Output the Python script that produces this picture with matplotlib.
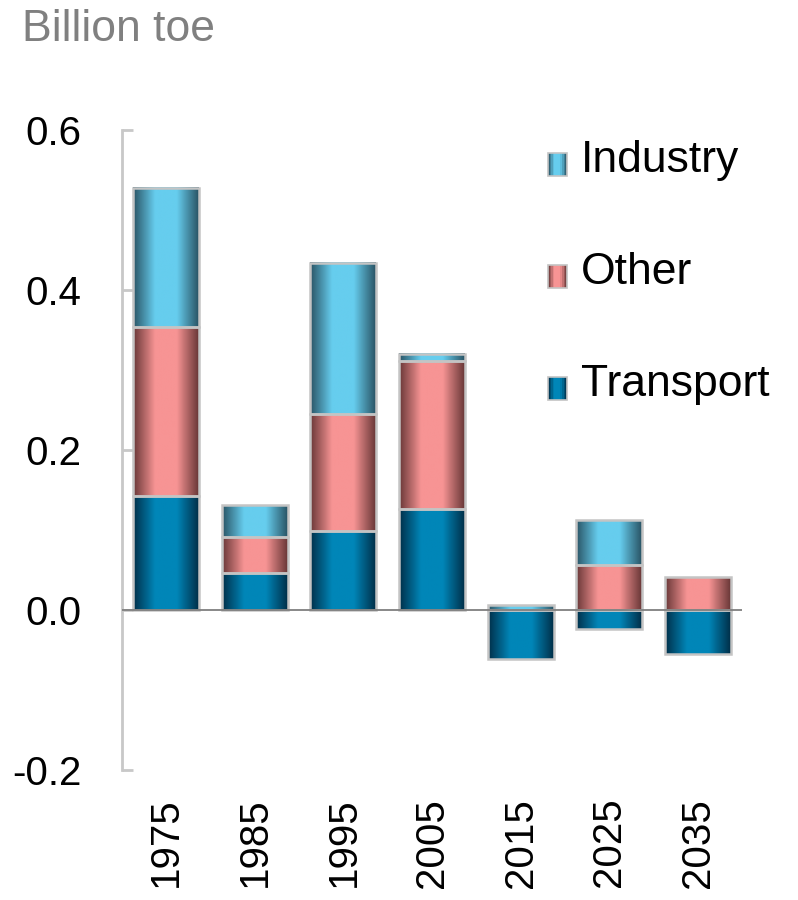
import numpy as np
import matplotlib.pyplot as plt
from matplotlib.colors import LinearSegmentedColormap
from matplotlib.patches import Rectangle
from matplotlib.legend_handler import HandlerBase

plt.rcParams['font.family'] = ['Liberation Sans', 'DejaVu Sans']

years = ['1975', '1985', '1995', '2005', '2015', '2025', '2035']
transport = [0.142, 0.046, 0.099, 0.126, -0.061, -0.024, -0.055]
other = [0.212, 0.045, 0.146, 0.185, 0.0, 0.056, 0.041]
industry = [0.174, 0.040, 0.189, 0.009, 0.006, 0.056, 0.0]

series = [('Transport', transport, '#00304a', '#0086b8'),
          ('Other', other, '#6a3838', '#f79494'),
          ('Industry', industry, '#2a5566', '#66cdee')]

grad = np.linspace(0, 1, 64).reshape(1, -1)

fig = plt.figure(figsize=(7.98, 9), dpi=100)
ax = fig.add_axes([0.1529, 0.1444, 0.777, 0.7111])

w = 0.745
pos = np.zeros(len(years))
neg = np.zeros(len(years))
for name, vals, edge, mid in series:
    cm = LinearSegmentedColormap.from_list(name, [edge, mid, mid, edge])
    for i, v in enumerate(vals):
        if v == 0:
            continue
        if v > 0:
            b, t = pos[i], pos[i] + v
            pos[i] = t
        else:
            b, t = neg[i] + v, neg[i]
            neg[i] = b
        ax.imshow(grad, cmap=cm, aspect='auto', extent=(i - w/2, i + w/2, b, t),
                  zorder=2, interpolation='bicubic')
        ax.add_patch(Rectangle((i - w/2, b), w, t - b, fill=False,
                               edgecolor='#c4c4c4', lw=1.8, zorder=3))

ax.set_xlim(-0.5, 6.5)
ax.set_ylim(-0.2, 0.6)
ax.axhline(0, color='#7f7f7f', lw=1.3, zorder=4)

for s in ['top', 'right', 'bottom']:
    ax.spines[s].set_visible(False)
ax.spines['left'].set_color('#c8c8c8')
ax.spines['left'].set_linewidth(2)

ax.set_yticks([-0.2, 0.0, 0.2, 0.4, 0.6])
ax.set_yticklabels(['-0.2', '0.0', '0.2', '0.4', '0.6'])
ax.tick_params(axis='y', direction='in', length=8, width=2, color='#c8c8c8',
               labelsize=29, pad=29)
ax.set_xticks(range(len(years)))
ax.set_xticklabels(years, rotation=90, fontsize=29)
ax.tick_params(axis='x', length=0, pad=20)

fig.text(0.027, 0.967, 'Billion toe', fontsize=32, color='#808080', va='center')

class GradHandler(HandlerBase):
    def __init__(self, edge, mid):
        super().__init__()
        self.cm = LinearSegmentedColormap.from_list('h', [edge, mid, mid, edge])
    def create_artists(self, legend, orig, xd, yd, width, height, fontsize, trans):
        n = 12
        arts = []
        for k in range(n):
            r = Rectangle((xd + width * k / n, yd), width / n, height,
                          facecolor=self.cm((k + 0.5) / n), edgecolor='none',
                          transform=trans)
            arts.append(r)
        arts.append(Rectangle((xd, yd), width, height, fill=False,
                              edgecolor='#c4c4c4', lw=1.2, transform=trans))
        return arts

handles = [Rectangle((0, 0), 1, 1) for _ in range(3)]
labels = ['Industry', 'Other', 'Transport']
hmap = {handles[0]: GradHandler('#2a5566', '#66cdee'),
        handles[1]: GradHandler('#6a3838', '#f79494'),
        handles[2]: GradHandler('#00304a', '#0086b8')}
ax.legend(handles, labels, handler_map=hmap, loc='upper left',
          bbox_to_anchor=(0.687, 0.985), frameon=False, fontsize=32,
          handlelength=0.42, handleheight=0.42, handletextpad=0.33,
          labelspacing=1.6, borderpad=0, borderaxespad=0)

fig.savefig('out.png', dpi=100)
